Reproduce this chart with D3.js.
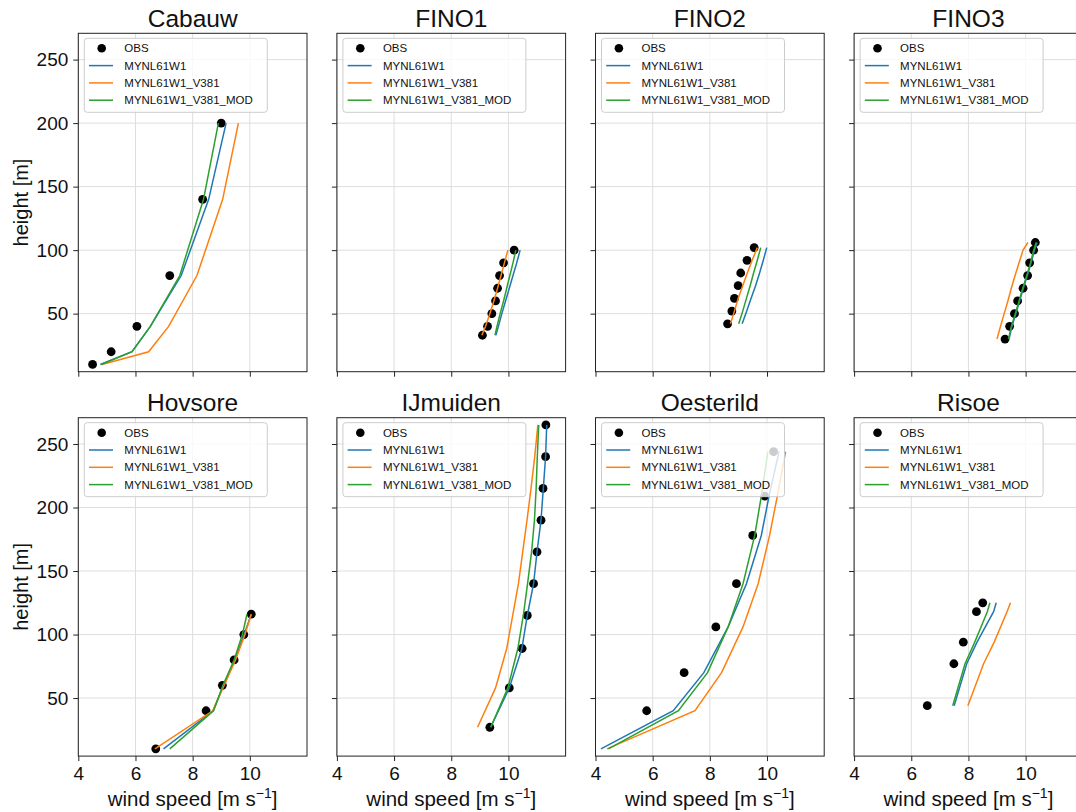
<!DOCTYPE html>
<html>
<head>
<meta charset="utf-8">
<script src="https://cdn.jsdelivr.net/npm/d3@7"></script>
<style>
  body { margin: 0; background: #fff; }
  svg text { font-family: "Liberation Sans", Arial, Helvetica, sans-serif; fill: #111; }
</style>
</head>
<body>
<svg id="chart" width="1076" height="812"></svg>
<script>
/*******************************************************************************************/
// Data (wind speed in m/s, height in m)

var sites = ['Cabauw', 'FINO1', 'FINO2', 'FINO3', 'Hovsore', 'IJmuiden', 'Oesterild', 'Risoe'];
var seriesNames = ['MYNL61W1', 'MYNL61W1_V381', 'MYNL61W1_V381_MOD'];
var xTicks = [4, 6, 8, 10];
var yTicks = [50, 100, 150, 200, 250];

var cabauwObsZ = [10, 20, 40, 80, 140, 200];
var cabauwObsU = [4.5, 5.15, 6.05, 7.2, 8.35, 9.0];
var cabauwModZ = [10, 20, 40, 80, 140, 200];
var cabauwW1   = [4.77, 5.88, 6.52, 7.6, 8.56, 9.17];
var cabauwV381 = [4.83, 6.46, 7.16, 8.15, 9.05, 9.6];
var cabauwMod  = [4.8, 5.88, 6.52, 7.55, 8.38, 8.9];

var fino1ObsZ = [100, 90, 80, 70, 60, 50, 40, 33];
var fino1ObsU = [10.2, 9.83, 9.69, 9.62, 9.55, 9.42, 9.27, 9.09];
var fino1ModZ = [33, 40, 50, 60, 70, 80, 90, 100];
var fino1W1   = [9.56, 9.65, 9.77, 9.9, 10.03, 10.16, 10.29, 10.41];
var fino1V381 = [9.07, 9.2, 9.35, 9.49, 9.62, 9.74, 9.86, 9.98];
var fino1Mod  = [9.53, 9.6, 9.71, 9.83, 9.94, 10.05, 10.16, 10.26];

var fino2ObsZ = [102, 92, 82, 72, 62, 52, 42];
var fino2ObsU = [9.55, 9.3, 9.08, 8.99, 8.86, 8.77, 8.62];
var fino2ModZ = [42, 52, 62, 72, 82, 92, 102];
var fino2W1   = [9.13, 9.29, 9.44, 9.6, 9.74, 9.87, 9.99];
var fino2V381 = [8.72, 8.86, 8.99, 9.15, 9.31, 9.48, 9.66];
var fino2Mod  = [9.01, 9.15, 9.28, 9.41, 9.53, 9.66, 9.78];

var fino3ObsZ = [106, 100, 90, 80, 70, 60, 50, 40, 30];
var fino3ObsU = [10.34, 10.28, 10.14, 10.07, 9.91, 9.72, 9.61, 9.44, 9.28];
var fino3ModZ = [30, 40, 50, 60, 70, 80, 90, 100, 106];
var fino3W1   = [9.42, 9.52, 9.66, 9.79, 9.92, 10.06, 10.19, 10.31, 10.4];
var fino3V381 = [9.0, 9.12, 9.25, 9.38, 9.5, 9.63, 9.77, 9.91, 10.08];
var fino3Mod  = [9.4, 9.5, 9.64, 9.77, 9.9, 10.04, 10.17, 10.28, 10.37];

var hovsoreObsZ = [10, 40, 60, 80, 100, 116];
var hovsoreObsU = [6.71, 8.47, 9.04, 9.45, 9.79, 10.05];
var hovsoreModZ = [10, 40, 60, 80, 100, 116];
var hovsoreW1   = [6.98, 8.72, 9.08, 9.48, 9.8, 10.05];
var hovsoreV381 = [6.68, 8.7, 9.1, 9.5, 9.83, 10.05];
var hovsoreMod  = [7.2, 8.73, 9.06, 9.45, 9.74, 9.9];

var ijmuidenObsZ = [265, 240, 215, 190, 165, 140, 115, 89, 58, 27];
var ijmuidenObsU = [11.31, 11.3, 11.21, 11.14, 11.0, 10.88, 10.66, 10.48, 10.03, 9.35];
var ijmuidenModZ = [27, 58, 89, 115, 140, 165, 190, 215, 240, 265];
var ijmuidenW1   = [9.38, 10.03, 10.47, 10.66, 10.88, 11.0, 11.14, 11.22, 11.3, 11.34];
var ijmuidenV381 = [8.92, 9.55, 9.94, 10.15, 10.35, 10.5, 10.65, 10.79, 10.92, 11.03];
var ijmuidenMod  = [9.38, 9.98, 10.33, 10.52, 10.67, 10.81, 10.91, 10.97, 11.01, 11.06];

var oesterildObsZ = [40, 70, 106, 140, 178, 209, 244];
var oesterildObsU = [5.79, 7.1, 8.21, 8.93, 9.5, 9.92, 10.23];
var oesterildModZ = [10, 40, 70, 106, 140, 178, 209, 244];
var oesterildW1   = [4.19, 6.72, 7.79, 8.64, 9.28, 9.8, 10.07, 10.42];
var oesterildV381 = [4.4, 7.48, 8.41, 9.16, 9.69, 10.09, 10.36, 10.65];
var oesterildMod  = [4.45, 6.9, 7.92, 8.64, 9.16, 9.57, 9.8, 10.03];

var risoeObsZ = [44, 77, 94, 118, 125];
var risoeObsU = [6.56, 7.49, 7.82, 8.28, 8.5];
var risoeModZ = [44, 77, 94, 118, 125];
var risoeW1   = [7.5, 7.94, 8.3, 8.88, 8.97];
var risoeV381 = [7.98, 8.53, 8.9, 9.35, 9.47];
var risoeMod  = [7.45, 7.88, 8.22, 8.66, 8.75];

/*******************************************************************************************/
// Table of panels built from the arrays above

var panels = [
  { obsZ: cabauwObsZ, obsU: cabauwObsU, modZ: cabauwModZ, mods: [cabauwW1, cabauwV381, cabauwMod] },
  { obsZ: fino1ObsZ, obsU: fino1ObsU, modZ: fino1ModZ, mods: [fino1W1, fino1V381, fino1Mod] },
  { obsZ: fino2ObsZ, obsU: fino2ObsU, modZ: fino2ModZ, mods: [fino2W1, fino2V381, fino2Mod] },
  { obsZ: fino3ObsZ, obsU: fino3ObsU, modZ: fino3ModZ, mods: [fino3W1, fino3V381, fino3Mod] },
  { obsZ: hovsoreObsZ, obsU: hovsoreObsU, modZ: hovsoreModZ, mods: [hovsoreW1, hovsoreV381, hovsoreMod] },
  { obsZ: ijmuidenObsZ, obsU: ijmuidenObsU, modZ: ijmuidenModZ, mods: [ijmuidenW1, ijmuidenV381, ijmuidenMod] },
  { obsZ: oesterildObsZ, obsU: oesterildObsU, modZ: oesterildModZ, mods: [oesterildW1, oesterildV381, oesterildMod] },
  { obsZ: risoeObsZ, obsU: risoeObsU, modZ: risoeModZ, mods: [risoeW1, risoeV381, risoeMod] }
];

/*******************************************************************************************/
// Layout

var colors = ['#1f77b4', '#ff7f0e', '#2ca02c'];
var colLeft = [78.3, 336.9, 595.5, 854.1];
var rowTop = [33.3, 417.7];
var panelW = 228.7, panelH = 338.4;

var xScale = d3.scaleLinear().domain([4, 12]).range([0, panelW]);
var yScale = d3.scaleLinear().domain([4.3, 270.7]).range([panelH, 0]);
var lineGen = d3.line().x(function(d){ return xScale(d.u) }).y(function(d){ return yScale(d.z) });

var svg = d3.select('#chart');

/*******************************************************************************************/
// Panels

panels.forEach(function(p, i){
  var row = Math.floor(i / 4), col = i % 4;
  var g = svg.append('g').attr('transform', 'translate(' + colLeft[col] + ',' + rowTop[row] + ')');

  // grid
  g.append('g').selectAll('line').data(xTicks).enter().append('line')
    .attr('x1', d => xScale(d)).attr('x2', d => xScale(d)).attr('y1', 0).attr('y2', panelH)
    .attr('stroke', '#dedede').attr('stroke-width', 1);
  g.append('g').selectAll('line').data(yTicks).enter().append('line')
    .attr('y1', d => yScale(d)).attr('y2', d => yScale(d)).attr('x1', 0).attr('x2', panelW)
    .attr('stroke', '#dedede').attr('stroke-width', 1);

  // axes
  var xAxis = d3.axisBottom(xScale).tickValues(xTicks).tickSize(5).tickPadding(5.5)
    .tickFormat(row === 1 ? d3.format('d') : '');
  var yAxis = d3.axisLeft(yScale).tickValues(yTicks).tickSize(5).tickPadding(5)
    .tickFormat(col === 0 ? d3.format('d') : '');
  var gx = g.append('g').attr('transform', 'translate(0,' + panelH + ')').call(xAxis);
  var gy = g.append('g').call(yAxis);
  [gx, gy].forEach(function(a){
    a.select('.domain').remove();
    a.selectAll('line').attr('stroke', '#222');
    a.selectAll('text').attr('font-size', 19).attr('fill', '#111')
      .style('font-family', '"Liberation Sans", Arial, sans-serif');
  });

  // observations
  g.append('g').selectAll('circle').data(p.obsZ.map((z, k) => ({ z: z, u: p.obsU[k] }))).enter()
    .append('circle').attr('cx', d => xScale(d.u)).attr('cy', d => yScale(d.z)).attr('r', 4.4).attr('fill', '#000');

  // model profiles
  p.mods.forEach(function(m, s){
    var pts = p.modZ.map((z, k) => ({ z: z, u: m[k] }));
    g.append('path').attr('d', lineGen(pts)).attr('fill', 'none')
      .attr('stroke', colors[s]).attr('stroke-width', 1.5);
  });

  // frame
  g.append('rect').attr('width', panelW).attr('height', panelH)
    .attr('fill', 'none').attr('stroke', '#222').attr('stroke-width', 1);

  // title
  g.append('text').attr('x', panelW / 2).attr('y', -6.5).attr('text-anchor', 'middle')
    .attr('font-size', 24.5).text(sites[i]);

  // legend
  var lg = g.append('g').attr('transform', 'translate(6,5)');
  lg.append('rect').attr('width', 183).attr('height', 74).attr('rx', 3)
    .attr('fill', '#fff').attr('fill-opacity', 0.8).attr('stroke', '#cccccc').attr('stroke-width', 1);
  lg.append('circle').attr('cx', 17.4).attr('cy', 10).attr('r', 4.3).attr('fill', '#000');
  lg.append('text').attr('x', 40).attr('y', 10).attr('dy', '0.35em').attr('font-size', 11.5).text('OBS');
  seriesNames.forEach(function(name, s){
    var yy = 27.3 + s * 17.3;
    lg.append('line').attr('x1', 4.7).attr('x2', 28.7).attr('y1', yy).attr('y2', yy)
      .attr('stroke', colors[s]).attr('stroke-width', 1.5);
    lg.append('text').attr('x', 40).attr('y', yy).attr('dy', '0.35em').attr('font-size', 11.5).text(name);
  });

  // axis labels
  if (row === 1) {
    var xl = g.append('text').attr('x', panelW / 2).attr('y', panelH + 50).attr('text-anchor', 'middle')
      .attr('font-size', 20.5);
    xl.append('tspan').text('wind speed [m s');
    xl.append('tspan').attr('font-size', 14).attr('dy', -8).text('\u22121');
    xl.append('tspan').attr('dy', 8).text(']');
  }
  if (col === 0) {
    g.append('text').attr('transform', 'translate(' + (27.5 - colLeft[0]) + ',' + (panelH / 2) + ') rotate(-90)')
      .attr('text-anchor', 'middle').attr('font-size', 20).text('height [m]');
  }
});
</script>
</body>
</html>
